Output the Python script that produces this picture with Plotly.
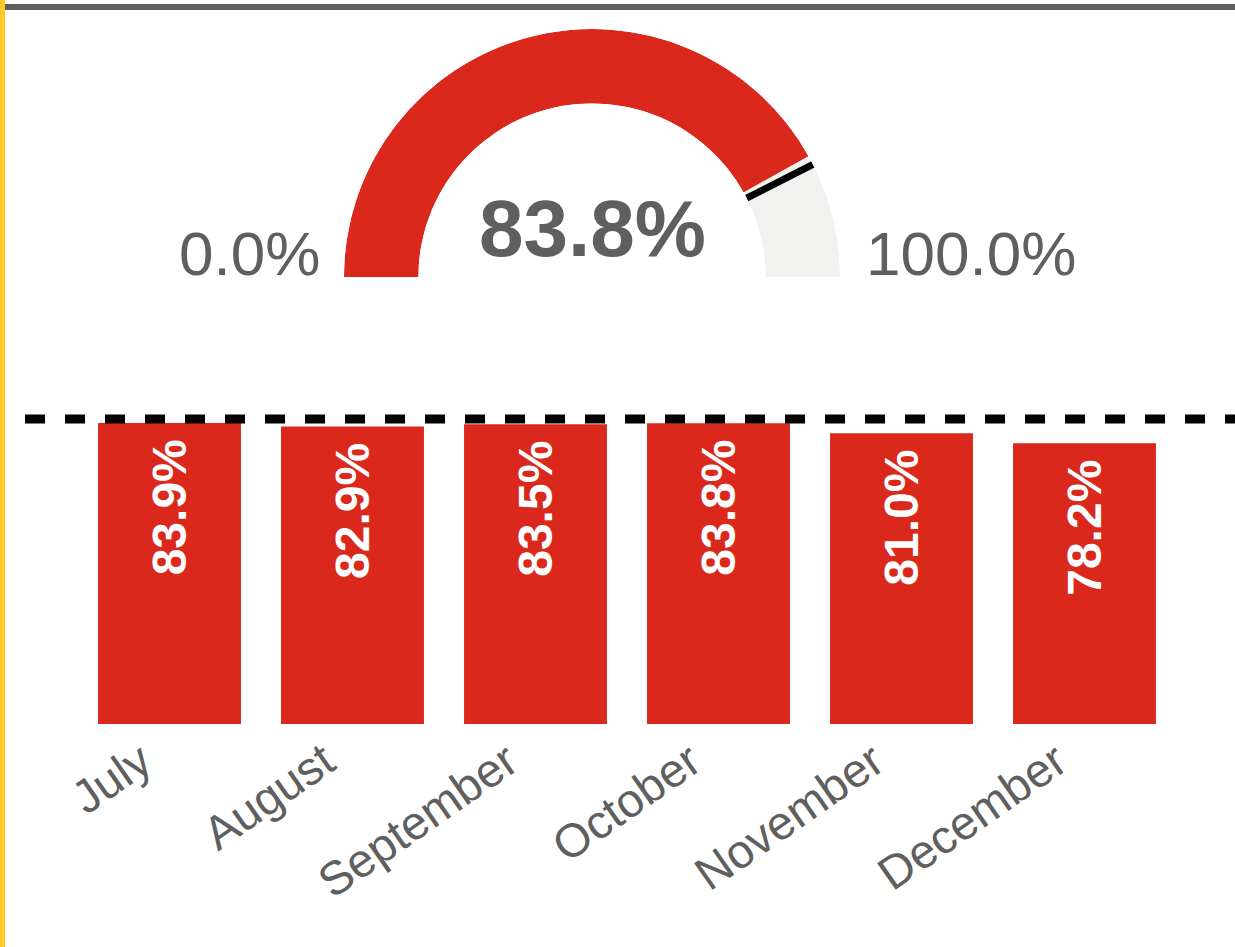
import plotly.graph_objects as go

# Monthly attainment (%) and the current value shown on the gauge
months = ["July", "August", "September", "October", "November", "December"]
attainment = [83.9, 82.9, 83.5, 83.8, 81.0, 78.2]
current_value = 83.8
target_value = 85.0
gauge_min = 0.0
gauge_max = 100.0

RED = "#DA291C"
TRACK = "#F1F1F0"
GRAY_TEXT = "#5F5F5F"
FONT = "Liberation Sans, Arial, sans-serif"

W, H = 1235, 947


def px_x(p):
    return p / W


def px_y(p):
    return 1 - p / H


def deg(v):
    # percent of the gauge span -> degrees along the half circle
    return (v - gauge_min) / (gauge_max - gauge_min) * 180.0


fig = go.Figure()

# Half-donut gauge drawn on a polar subplot: filled part, remaining track
fig.add_trace(go.Barpolar(
    theta=[deg(current_value) / 2, (deg(current_value) + deg(gauge_max)) / 2],
    width=[deg(current_value), deg(gauge_max) - deg(current_value)],
    r=[1, 1],
    marker=dict(color=[RED, TRACK], line=dict(width=0)),
    hoverinfo="skip",
    subplot="polar",
))
# Target marker on the gauge
fig.add_trace(go.Scatterpolar(
    theta=[deg(target_value), deg(target_value)],
    r=[0, 1],
    mode="lines",
    line=dict(color="black", width=7),
    hoverinfo="skip",
    subplot="polar",
))

# Monthly bars
fig.add_trace(go.Bar(
    x=months,
    y=attainment,
    marker=dict(color=RED, line=dict(width=0)),
    texttemplate="%{y:.1f}%\u00a0",
    textposition="inside",
    insidetextanchor="end",
    textangle=-90,
    textfont=dict(color="white", size=48, family=FONT, weight="bold"),
    hoverinfo="x+y",
))

fig.update_layout(
    width=W, height=H,
    margin=dict(l=0, r=0, t=0, b=0, autoexpand=False),
    paper_bgcolor="white",
    plot_bgcolor="white",
    showlegend=False,
    bargap=0.219,
    polar=dict(
        domain=dict(x=[px_x(344), px_x(840)], y=[px_y(277), px_y(29)]),
        sector=[0, 180],
        hole=0.70,
        bgcolor="rgba(0,0,0,0)",
        radialaxis=dict(range=[0, 1], visible=False, showgrid=False),
        angularaxis=dict(rotation=180, direction="clockwise", visible=False,
                         showgrid=False, thetaunit="degrees"),
        barmode="overlay",
    ),
    xaxis=dict(
        domain=[px_x(78), px_x(1176)],
        anchor="y",
        automargin=False,
        tickangle=-35,
        ticklabelshift=-28,
        tickfont=dict(size=47, color=GRAY_TEXT, family=FONT),
        showgrid=False, zeroline=False, showline=False, ticks="",
    ),
    yaxis=dict(
        domain=[px_y(724), px_y(401)],
        range=[0, 90],
        visible=False,
        automargin=False,
        showgrid=False, zeroline=False,
    ),
    annotations=[
        dict(text=f"{current_value:.1f}%", xref="paper", yref="paper",
             x=px_x(592), y=px_y(228), xanchor="center", yanchor="middle",
             showarrow=False,
             font=dict(size=80, color=GRAY_TEXT, family=FONT, weight="bold")),
        dict(text=f"{gauge_min:.1f}%", xref="paper", yref="paper",
             x=px_x(322), y=px_y(290), xanchor="right", yanchor="bottom",
             showarrow=False,
             font=dict(size=62, color=GRAY_TEXT, family=FONT)),
        dict(text=f"{gauge_max:.1f}%", xref="paper", yref="paper",
             x=px_x(864), y=px_y(290), xanchor="left", yanchor="bottom",
             showarrow=False,
             font=dict(size=62, color=GRAY_TEXT, family=FONT)),
    ],
    shapes=[
        # target line across the bar chart
        dict(type="line", xref="paper", yref="y",
             x0=px_x(25), x1=1.0, y0=target_value, y1=target_value,
             line=dict(color="black", width=9, dash="20px,20px")),
        # header rule
        dict(type="rect", xref="paper", yref="paper",
             x0=px_x(5), x1=1.0, y0=px_y(10), y1=px_y(4),
             fillcolor="#5E5E5E", line=dict(width=0), layer="above"),
        # accent strip
        dict(type="rect", xref="paper", yref="paper",
             x0=0, x1=px_x(5), y0=0, y1=1,
             fillcolor="#FFC92C", line=dict(width=0), layer="above"),
    ],
)

fig.write_html("out.html")
